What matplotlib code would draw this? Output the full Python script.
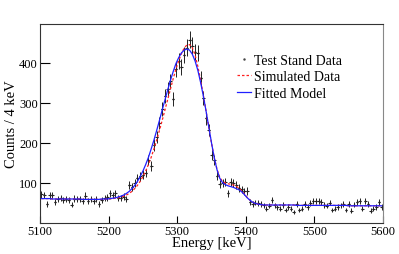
import numpy as np
import matplotlib
matplotlib.use("Agg")
import matplotlib.pyplot as plt
from matplotlib.lines import Line2D

plt.rcParams['font.family'] = ['Liberation Serif', 'DejaVu Serif']

# 4 keV bins, 5100 - 5600 keV
bin_lo = 5100
bin_w = 4
n_bins = 125

counts = [
    72, 70, 48, 69, 70, 52, 60, 63, 58, 60, 58, 46, 61, 60, 59, 56, 68, 56, 60, 55,
    60, 47, 57, 63, 64,
    74, 70, 74, 63, 62, 66, 60, 95, 90, 100, 113, 117, 121, 125, 158, 143, 195, 215,
    250, 285, 318, 335, 354, 310, 384, 406, 390, 420, 438, 458, 443, 428, 425, 362,
    312, 262, 233, 170, 158, 118, 98, 100, 103,
    74, 102, 101, 95, 88, 84, 79, 80, 53, 48, 51, 50, 47, 44, 36, 43, 58, 44, 39, 36,
    45, 32, 40, 36, 28, 47, 32, 36, 47, 40, 50, 55, 56, 55, 52, 45, 43, 51, 32, 36,
    40, 44, 48, 32, 47, 31, 46, 52, 56, 36, 55, 47, 31, 36, 40, 52, 40,
]

fitted = [
    61, 61, 61, 61, 60, 60, 60, 60, 60, 60, 60, 60, 60, 60, 60, 59, 59, 59, 59, 59,
    59, 59, 60, 60, 60,
    61, 62, 63, 65, 67, 70, 74, 79, 86, 94, 104, 116, 130, 146, 164, 185, 207, 231,
    256, 282, 307, 332, 356, 378, 398, 413, 425, 432, 435, 432, 422, 405, 382, 352,
    318, 280, 240, 200, 163, 133, 112, 101, 96,
    93, 91, 89, 86, 83, 78, 71, 63, 57, 52, 49, 47, 46, 45, 45, 45, 45, 45, 45, 45,
    45, 45, 45, 45, 45, 44, 44, 44, 44, 44, 44, 44, 44, 44, 44, 44, 44, 44, 44, 44,
    44, 44, 44, 44, 43, 43, 43, 43, 43, 43, 43, 43, 43, 43, 43, 43, 43,
]

simulated = [
    61, 61, 61, 61, 60, 60, 60, 60, 60, 60, 60, 60, 60, 60, 60, 59, 59, 59, 59, 59,
    59, 59, 59, 59, 60,
    60, 61, 62, 63, 65, 67, 70, 74, 79, 86, 94, 104, 116, 130, 146, 164, 185, 207,
    231, 256, 282, 308, 334, 360, 384, 405, 423, 437, 445, 446, 438, 420, 392, 358,
    320, 280, 239, 199, 163, 134, 114, 104, 100,
    98, 97, 95, 92, 87, 80, 72, 64, 57, 52, 49, 47, 46, 45, 45, 45, 45, 45, 45, 45,
    45, 45, 45, 45, 45, 44, 44, 44, 44, 44, 44, 44, 44, 44, 44, 44, 44, 44, 44, 44,
    44, 44, 44, 44, 43, 43, 43, 43, 43, 43, 43, 43, 43, 43, 43, 43, 43,
]

x_ticks = [5100, 5200, 5300, 5400, 5500, 5600]
y_ticks = [100, 200, 300, 400]


def drawplot():
    energy = bin_lo + bin_w / 2 + bin_w * np.arange(n_bins)
    y = np.array(counts, dtype=float)

    fig = plt.figure(figsize=(3.99, 2.55), dpi=100)
    ax = fig.add_axes([0.1003, 0.1216, 0.8597, 0.7804])

    ax.errorbar(energy, y, xerr=bin_w / 2, yerr=np.sqrt(y), fmt='none',
                ecolor='#222222', elinewidth=0.7, capsize=0, zorder=2)
    ax.plot(energy, y, linestyle='none', marker='.', ms=1, color='#222222', zorder=2)
    ax.plot(energy, simulated, color='#ff2020', lw=0.9, linestyle=(0, (2, 1.6)), zorder=3)
    ax.plot(energy, fitted, color='#2020ff', lw=0.9, zorder=4)

    ax.set_xlim(5100, 5600)
    ax.set_ylim(0, 497.5)
    ax.set_xticks(x_ticks)
    ax.set_yticks(y_ticks)
    ax.tick_params(axis='x', direction='in', length=5, width=0.8, labelsize=9, pad=1.5)
    ax.tick_params(axis='y', direction='in', length=7, width=0.8, labelsize=9, pad=1.5)
    for s in ax.spines.values():
        s.set_linewidth(0.8)
        s.set_color('#333333')
    ax.spines['right'].set_color('#888888')

    ax.set_xlabel('Energy [keV]', fontsize=10.5, labelpad=-1)
    ax.set_ylabel('Counts / 4 keV', fontsize=10.5, labelpad=1)

    handles = [
        Line2D([], [], linestyle='none', marker='.', ms=1.5, color='#444444'),
        Line2D([], [], color='#ff2020', lw=0.9, linestyle=(0, (2, 1.6))),
        Line2D([], [], color='#2020ff', lw=0.9),
    ]
    ax.legend(handles, ['Test Stand Data', 'Simulated Data', 'Fitted Model'],
              loc='upper left', bbox_to_anchor=(0.555, 0.885), frameon=False,
              fontsize=10, handlelength=1.0, handletextpad=0.2,
              labelspacing=0.25, borderpad=0)

    fig.savefig('out.png', dpi=100)


if __name__ == "__main__":
    drawplot()
